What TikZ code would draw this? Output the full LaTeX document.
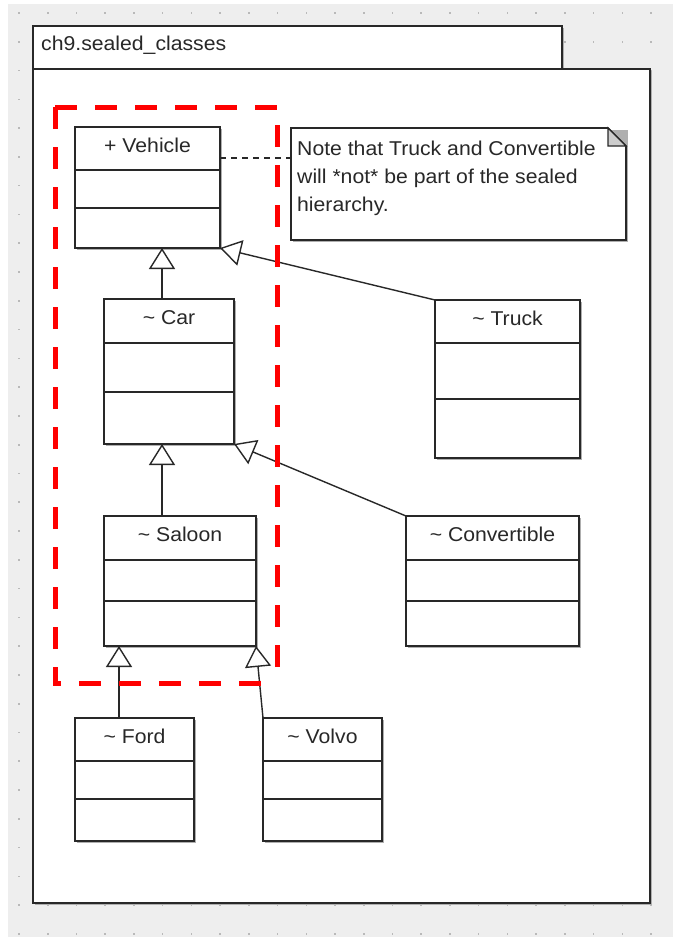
\documentclass[tikz,border=0pt]{standalone}
\usepackage{fontspec}
\setmainfont{Liberation Sans}[FakeStretch=1.06]
\usetikzlibrary{arrows.meta,calc}
\definecolor{bggray}{RGB}{238,238,238}
\definecolor{dotgray}{RGB}{185,185,185}
\definecolor{ink}{RGB}{40,40,40}
\definecolor{shade}{RGB}{175,175,175}
\definecolor{foldgray}{RGB}{205,205,205}
\definecolor{sealred}{RGB}{255,0,0}
\tikzset{
  boxline/.style={draw=ink, line width=1.6pt},
  classbox/.style={boxline, fill=white, rectangle, inner sep=0pt, outer sep=0pt},
  pkgbox/.style={boxline, fill=white, rectangle, inner sep=0pt, outer sep=0pt},
  shadowfill/.style={fill=shade},
  compline/.style={draw=ink, line width=1.4pt},
  classlabel/.style={anchor=base, inner sep=0pt, text=ink, font=\fontsize{20}{24}\selectfont},
  notetext/.style={anchor=base west, inner sep=0pt, text=ink, font=\fontsize{20}{24}\selectfont},
  gen/.style={draw=ink, line width=1.4pt, -{Triangle[open, fill=white, length=21pt, width=26pt, line width=1.4pt]}},
  notelink/.style={draw=ink, line width=1.3pt, dash pattern=on 6pt off 5pt},
  sealed/.style={draw=sealred, line width=5pt, dash pattern=on 22pt off 18pt}
}
\newcommand\umlclass[8]{%
  \fill[shadowfill] (#2+2,#3+2) rectangle (#4+2,#5+2);
  \node[classbox, minimum width={#4-#2}, minimum height={#5-#3}, anchor=north west] (#1) at (#2,#3) {};
  \draw[compline] (#2,#6) -- (#4,#6) (#2,#7) -- (#4,#7);
  \node[classlabel] (#1-name) at ({(#2+#4)/2},#3+25) {#8};
}
\begin{document}
\begin{tikzpicture}[x=1pt, y=-1pt]
\useasboundingbox (0,0) rectangle (673,937);
% background
\fill[white] (0,0) rectangle (673,937);
\fill[bggray] (8,4) rectangle (673,937);
\foreach \i in {0,...,22} {
  \foreach \j in {0,...,32} {
    \fill[dotgray] ({19+28.73*\i-0.8},{13+28.78*\j-0.8}) rectangle ++(1.6,1.6);
  }
}
% package
\fill[shadowfill] (35,28) rectangle (564,71);
\fill[shadowfill] (35,71) rectangle (652,905);
\node[pkgbox, minimum width=529, minimum height=43, anchor=north west] (pkgtab) at (33,26) {};
\node[pkgbox, minimum width=617, minimum height=834, anchor=north west] (pkg) at (33,69) {};
\node[anchor=base west, inner sep=0pt, text=ink, font=\fontsize{20}{24}\selectfont] (pkgname) at (41,50) {ch9.sealed\_classes};
% classes
\umlclass{vehicle}{75}{127}{220}{248}{170}{208}{+ Vehicle}
\umlclass{car}{104}{299}{234}{444}{343}{392}{\textasciitilde\ Car}
\umlclass{truck}{435}{300}{580}{458}{343}{399}{\textasciitilde\ Truck}
\umlclass{saloon}{104}{516}{256}{646}{560}{601}{\textasciitilde\ Saloon}
\umlclass{convertible}{406}{516}{579}{646}{560}{601}{\textasciitilde\ Convertible}
\umlclass{ford}{75}{718}{194}{841}{761}{799}{\textasciitilde\ Ford}
\umlclass{volvo}{263}{718}{382}{841}{761}{799}{\textasciitilde\ Volvo}
% note
\fill[shadowfill] (293,130) rectangle (628,242);
\node[rectangle, inner sep=0pt, outer sep=0pt, minimum width=335, minimum height=112, anchor=north west] (note) at (291,128) {};
\fill[white] (note.north west) -- ($(note.north east)+(-18,0)$) -- ($(note.north east)+(0,18)$) -- (note.south east) -- (note.south west) -- cycle;
\draw[boxline, line join=miter] (note.north west) -- ($(note.north east)+(-18,0)$) -- ($(note.north east)+(0,18)$) -- (note.south east) -- (note.south west) -- cycle;
\filldraw[fill=foldgray, draw=ink, line width=1.2pt] ($(note.north east)+(-18,0)$) -- ($(note.north east)+(-18,18)$) -- ($(note.north east)+(0,18)$) -- cycle;
\node[notetext] (note-l1) at (297,155) {Note that Truck and Convertible};
\node[notetext] (note-l2) at (297,183) {will *not* be part of the sealed};
\node[notetext] (note-l3) at (297,211) {hierarchy.};
\draw[notelink] ($(vehicle.north east)+(0,31)$) -- ($(note.north west)+(0,30)$);
% generalizations
\coordinate (cv) at ([xshift=-7]car.north);
\draw[gen] (cv) -- (cv |- vehicle.south);
\coordinate (sc) at ([xshift=-18]saloon.north);
\draw[gen] (sc) -- (sc |- car.south);
\coordinate (fs) at ([xshift=-15.5]ford.north);
\draw[gen] (fs) -- (fs |- saloon.south);
\draw[gen] (truck.north west) -- (vehicle.south east);
\draw[gen] (convertible.north west) -- (car.south east);
\draw[gen] (volvo.north west) -- (saloon.south east);
% sealed hierarchy frame
\coordinate (rtl) at (55,107);
\coordinate (rtr) at (277,107);
\coordinate (rbr) at (277,683);
\coordinate (rbl) at (55,683);
\draw[sealed] (rtl) -- (rtr) -- (rbr);
\draw[sealed] (rtl) -- (rbl) -- (rbr);
\end{tikzpicture}
\end{document}
